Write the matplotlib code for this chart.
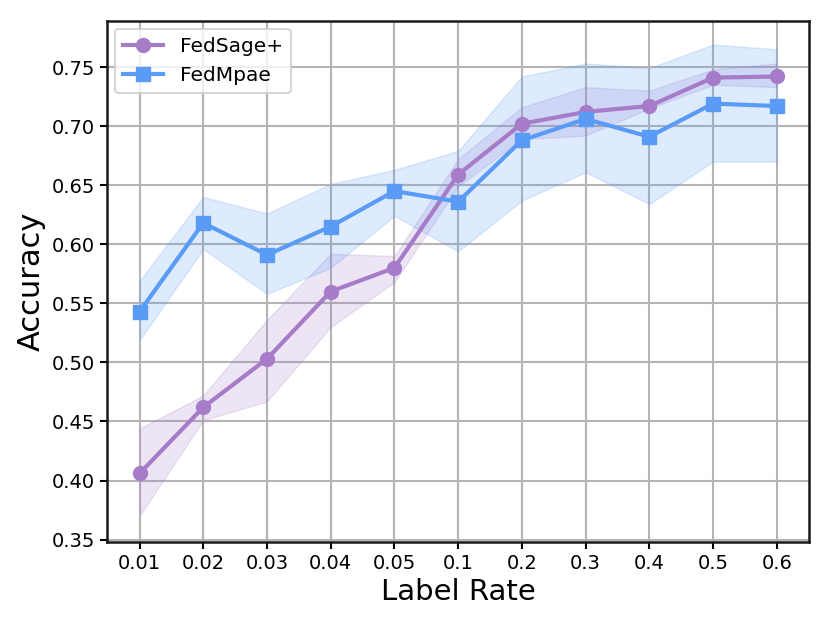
import matplotlib
matplotlib.use("Agg")
import matplotlib.pyplot as plt
import numpy as np

labels = ["0.01", "0.02", "0.03", "0.04", "0.05", "0.1", "0.2", "0.3", "0.4", "0.5", "0.6"]
fedsage_mean = [0.406, 0.462, 0.503, 0.560, 0.580, 0.659, 0.702, 0.712, 0.717, 0.741, 0.742]
fedsage_low = [0.370, 0.451, 0.467, 0.530, 0.568, 0.649, 0.689, 0.692, 0.715, 0.735, 0.733]
fedsage_high = [0.444, 0.472, 0.536, 0.592, 0.590, 0.672, 0.716, 0.733, 0.730, 0.748, 0.753]
fedmpae_mean = [0.543, 0.618, 0.591, 0.615, 0.645, 0.636, 0.688, 0.706, 0.691, 0.719, 0.717]
fedmpae_low = [0.519, 0.596, 0.558, 0.580, 0.624, 0.594, 0.637, 0.661, 0.634, 0.670, 0.670]
fedmpae_high = [0.569, 0.640, 0.626, 0.651, 0.663, 0.679, 0.742, 0.753, 0.749, 0.769, 0.765]

purple = "#a67cc8"
blue = "#5a9bf6"

plt.rcParams["xtick.labelsize"] = 14
plt.rcParams["ytick.labelsize"] = 14

fig = plt.figure(figsize=(8.3, 6.27), dpi=100)
ax = fig.add_axes([0.129, 0.1356, 0.846, 0.831])
x = np.arange(len(labels))

ax.grid(True, color="#b4b4b4", linewidth=1.5, zorder=0)
ax.set_axisbelow(True)

ax.fill_between(x, fedsage_low, fedsage_high, color=purple, alpha=0.2, zorder=2, linewidth=1)
ax.fill_between(x, fedmpae_low, fedmpae_high, color=blue, alpha=0.2, zorder=2, linewidth=1)
ax.plot(x, fedsage_mean, color=purple, marker="o", markersize=10, linewidth=3, label="FedSage+", zorder=4)
ax.plot(x, fedmpae_mean, color=blue, marker="s", markersize=10, linewidth=3, label="FedMpae", zorder=4)

ax.set_xticks(x)
ax.set_xticklabels(labels, fontsize=14)
ax.set_xlim(-0.51, 10.51)
ax.set_ylim(0.348, 0.789)
yt = [0.35, 0.40, 0.45, 0.50, 0.55, 0.60, 0.65, 0.70, 0.75]
ax.set_yticks(yt)
ax.set_yticklabels([f"{v:.2f}" for v in yt], fontsize=14)
ax.tick_params(axis="both", width=1.5, length=5, direction="out")
for s in ax.spines.values():
    s.set_linewidth(1.8)
    s.set_color("#1a1a1a")

ax.set_xlabel("Label Rate", fontsize=21)
ax.set_ylabel("Accuracy", fontsize=22)

leg = ax.legend(loc="upper left", fontsize=14.5, frameon=True, borderaxespad=0.4)
leg.get_frame().set_edgecolor("#cccccc")
leg.get_frame().set_linewidth(1.5)

fig.savefig("out.png", dpi=100)
